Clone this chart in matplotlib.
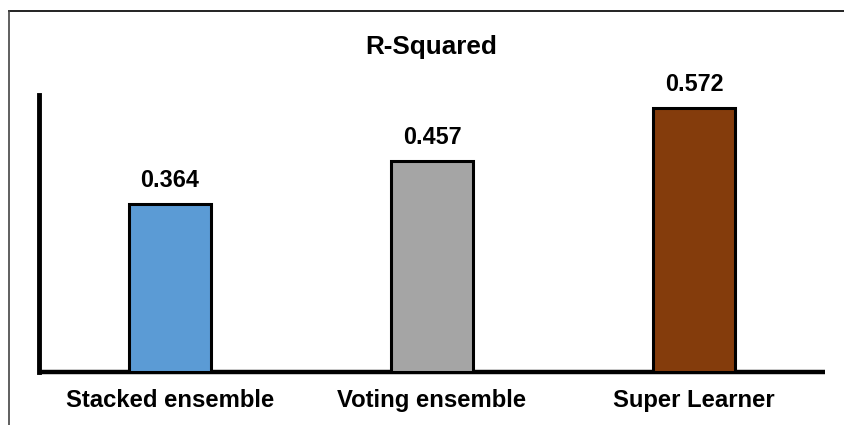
import matplotlib
matplotlib.use("Agg")
import matplotlib.pyplot as plt
from matplotlib.lines import Line2D

categories = ["Stacked ensemble", "Voting ensemble", "Super Learner"]
values = [0.364, 0.457, 0.572]
labels = ["0.364", "0.457", "0.572"]
colors = ["#5B9BD5", "#A5A5A5", "#843C0C"]
title = "R-Squared"

plt.rcParams['font.family'] = ['Liberation Sans', 'DejaVu Sans']

fig = plt.figure(figsize=(8.45, 4.25), dpi=100)
ax = fig.add_axes([39/845, 53/425, 786/845, 277/425])

x = list(range(len(categories)))
ax.bar(x, values, width=0.313, color=colors, edgecolor='black', linewidth=2.2, zorder=3)
for xi, v, lab in zip(x, values, labels):
    ax.annotate(lab, (xi, v), xytext=(0, 8.5), textcoords='offset points',
                ha='center', va='bottom', fontsize=16.8, fontweight='bold')

ax.set_xlim(-0.5, 2.5)
ax.set_ylim(0, 0.6)
ax.set_xticks(x)
ax.set_xticklabels(categories, fontsize=17.2, fontweight='bold')
ax.tick_params(axis='x', length=0, pad=12)
ax.set_yticks([])
for s in ['top', 'right']:
    ax.spines[s].set_visible(False)
ax.spines['left'].set_linewidth(3.5)
ax.spines['bottom'].set_linewidth(3.2)
ax.spines['left'].set_capstyle('projecting')
ax.spines['bottom'].set_capstyle('butt')

fig.text(431.5/845, 1 - 54/425, title, ha='center', va='baseline',
         fontsize=18.8, fontweight='bold')

# outer frame lines (partial border)
fig.add_artist(Line2D([9.5/845, 1.0], [1 - 10.8/425, 1 - 10.8/425],
                      transform=fig.transFigure, color='#222222', lw=1.4))
fig.add_artist(Line2D([9.5/845, 9.5/845], [0, 1 - 10.8/425],
                      transform=fig.transFigure, color='#444444', lw=1.2))

fig.savefig("out.png", dpi=100)
